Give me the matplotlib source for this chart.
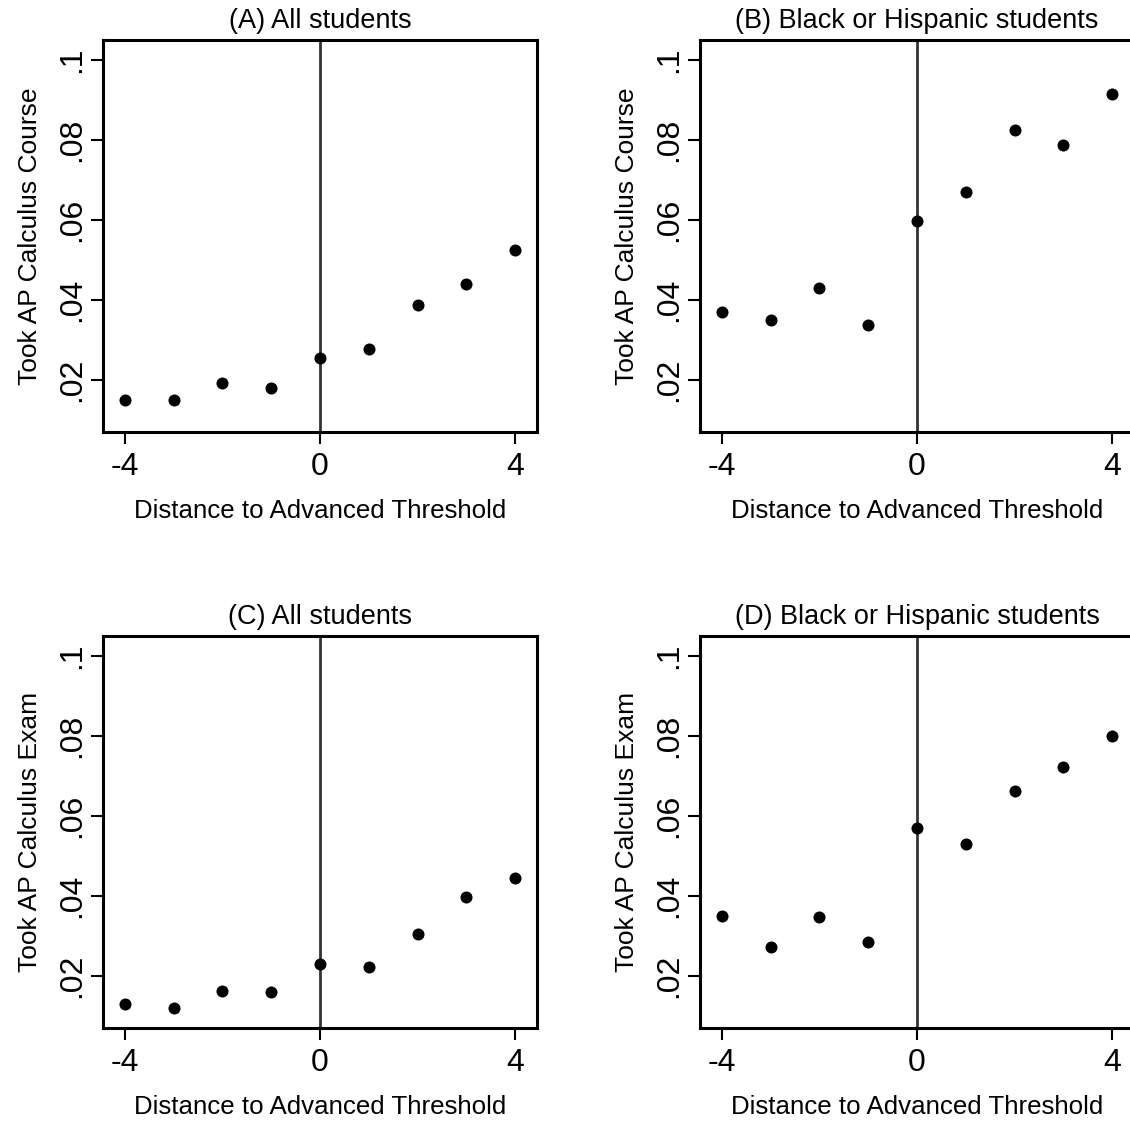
import matplotlib
matplotlib.use("Agg")
import matplotlib.pyplot as plt

plt.rcParams['font.family'] = ['Liberation Sans', 'DejaVu Sans']

distance = [-4, -3, -2, -1, 0, 1, 2, 3, 4]

# panel values
course_all = [0.0150, 0.0151, 0.0192, 0.0179, 0.0254, 0.0278, 0.0387, 0.0440, 0.0524]
course_bh = [0.0371, 0.0350, 0.0430, 0.0337, 0.0597, 0.0669, 0.0824, 0.0787, 0.0915]
exam_all = [0.0129, 0.0120, 0.0163, 0.0161, 0.0230, 0.0223, 0.0306, 0.0398, 0.0446]
exam_bh = [0.0349, 0.0273, 0.0347, 0.0285, 0.0571, 0.0529, 0.0662, 0.0723, 0.0800]

titles = ["(A) All students", "(B) Black or Hispanic students",
          "(C) All students", "(D) Black or Hispanic students"]
ylabels = ["Took AP Calculus Course", "Took AP Calculus Course",
           "Took AP Calculus Exam", "Took AP Calculus Exam"]
series = [course_all, course_bh, exam_all, exam_bh]

xticks = [-4, 0, 4]
yticks = [0.02, 0.04, 0.06, 0.08, 0.1]
ytick_labels = [".02", ".04", ".06", ".08", ".1"]

W, H = 1130, 1122
fig = plt.figure(figsize=(W / 100, H / 100), dpi=100)

# left, top in pixels
boxes = [(103, 40), (700, 40), (103, 636), (700, 636)]
aw, ah = 434, 392

for (lx, ty), title, ylab, vals in zip(boxes, titles, ylabels, series):
    ax = fig.add_axes([lx / W, 1 - (ty + ah) / H, aw / W, ah / H])
    ax.axvline(0, color='#333333', lw=2, zorder=1)
    ax.scatter(distance, vals, s=75, color='black', zorder=3, linewidths=0)
    ax.set_xlim(-4.45, 4.45)
    ax.set_ylim(0.007, 0.105)
    ax.set_xticks(xticks)
    ax.set_xticklabels([str(t) for t in xticks])
    ax.set_yticks(yticks)
    ax.set_yticklabels(ytick_labels, rotation=90, va='center')
    ax.tick_params(axis='both', length=8.6, width=1.5, labelsize=23)
    ax.tick_params(axis='x', pad=6)
    ax.tick_params(axis='y', pad=3)
    for sp in ax.spines.values():
        sp.set_linewidth(2.2)
    ax.set_title(title, fontsize=19.5, pad=9)
    ax.set_xlabel("Distance to Advanced Threshold", fontsize=18.6, labelpad=12)
    ax.set_ylabel(ylab, fontsize=19, labelpad=11)

fig.savefig("out.png", dpi=100)
